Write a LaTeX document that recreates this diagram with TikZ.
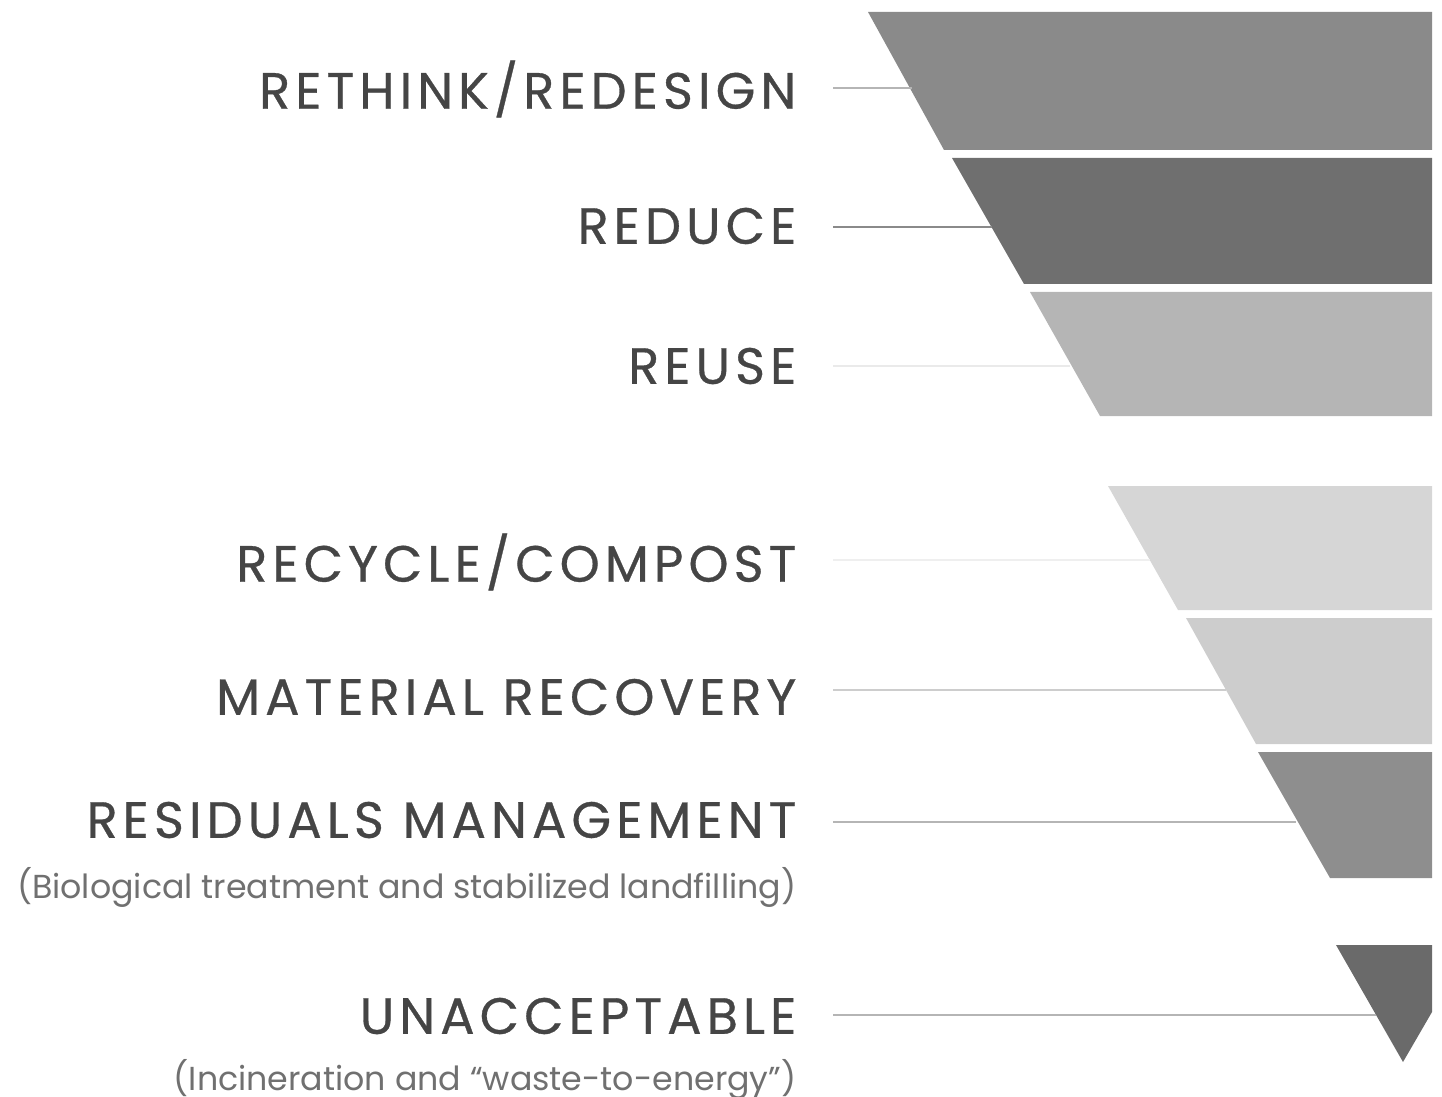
\documentclass[tikz,border=0pt]{standalone}
\usepackage{fontspec}
\setmainfont{Poppins}
\newfontfamily\capsfont[LetterSpace=10,FakeBold=0.6]{Poppins}
\definecolor{bandA}{HTML}{8A8A8A}
\definecolor{bandB}{HTML}{6F6F6F}
\definecolor{bandC}{HTML}{B5B5B5}
\definecolor{bandD}{HTML}{D6D6D6}
\definecolor{bandE}{HTML}{CDCDCD}
\definecolor{bandF}{HTML}{8E8E8E}
\definecolor{bandG}{HTML}{6A6A6A}
\definecolor{txt}{HTML}{454545}
\definecolor{subtxt}{HTML}{707070}
\tikzset{
  label/.style={anchor=east, inner sep=0pt, text=txt, font=\capsfont\fontsize{14.5pt}{16pt}\selectfont},
  sublabel/.style={anchor=east, inner sep=0pt, text=subtxt, font=\fontsize{9.45pt}{11pt}\selectfont},
  conn/.style={draw=#1, line width=0.5pt},
}
\begin{document}
\begin{tikzpicture}[x=0.01cm, y=-0.01cm]
\useasboundingbox (0,0) rectangle (1442,1097);
% bands
\fill[bandA] (868,12) -- (1432,12) -- (1432,150) -- (944,150) -- cycle;
\fill[bandB] (952,158) -- (1432,158) -- (1432,284) -- (1024,284) -- cycle;
\fill[bandC] (1030,292) -- (1432,292) -- (1432,416) -- (1100,416) -- cycle;
\fill[bandD] (1108,486) -- (1432,486) -- (1432,610) -- (1178,610) -- cycle;
\fill[bandE] (1186,618) -- (1432,618) -- (1432,744) -- (1256,744) -- cycle;
\fill[bandF] (1258,752) -- (1432,752) -- (1432,878) -- (1330,878) -- cycle;
\fill[bandG] (1336,945) -- (1432,945) -- (1432,1012) -- (1403,1062) -- cycle;
% band edge coordinates for connectors
\coordinate (e1) at (912,88);
\coordinate (e2) at (992,227);
\coordinate (e3) at (1070,366);
\coordinate (e4) at (1150,560);
\coordinate (e5) at (1226,690);
\coordinate (e6) at (1296,822);
\coordinate (e7) at (1376,1015);
% labels
\node[label] (t1) at (797,89) {RETHINK/REDESIGN};
\node[label] (t2) at (797,226) {REDUCE};
\node[label] (t3) at (797,366) {REUSE};
\node[label] (t4) at (797,562) {RECYCLE/COMPOST};
\node[label] (t5) at (797,697) {MATERIAL RECOVERY};
\node[label] (t6) at (797,820) {RESIDUALS MANAGEMENT};
\node[sublabel] (s6) at (797,887) {(Biological treatment and stabilized landfilling)};
\node[label] (t7) at (797,1016) {UNACCEPTABLE};
\node[sublabel] (s7) at (797,1079) {(Incineration and “waste-to-energy”)};
% connectors
\draw[conn=bandC] (833,88) -- (e1);
\draw[conn=bandA] (833,227) -- (e2);
\draw[conn=bandD!50] (833,366) -- (e3);
\draw[conn=bandD!40] (833,560) -- (e4);
\draw[conn=bandE] (833,690) -- (e5);
\draw[conn=bandC] (833,822) -- (e6);
\draw[conn=bandC] (833,1015) -- (e7);
\end{tikzpicture}
\end{document}
